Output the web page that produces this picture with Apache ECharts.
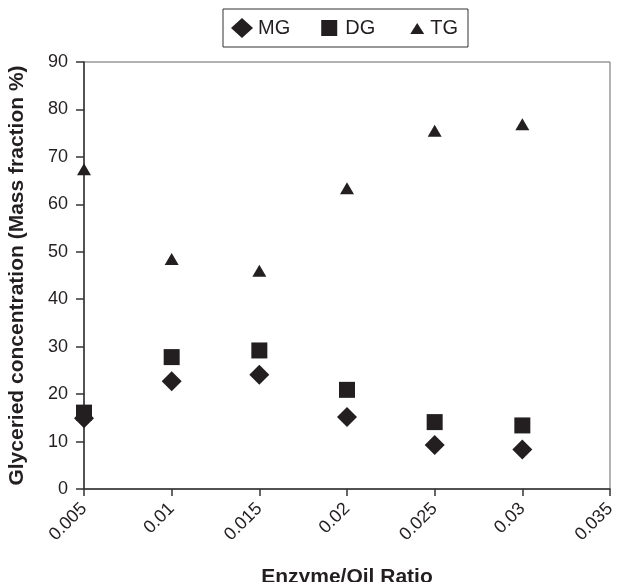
<!DOCTYPE html>
<html>
<head>
<meta charset="utf-8">
<title>Glyceride concentration</title>
<script src="https://cdn.jsdelivr.net/npm/echarts@6/dist/echarts.min.js"></script>
<style>
  html, body { margin: 0; padding: 0; background: #fff; }
  #main { width: 619px; height: 582px; }
</style>
</head>
<body>
<div id="main"></div>
<script>
// enzyme/oil ratio
var ratio = [0.005, 0.01, 0.015, 0.02, 0.025, 0.03];
// glyceride concentration, mass fraction %
var mg = [14.9, 22.7, 24.1, 15.2, 9.3, 8.3];
var dg = [16.1, 27.8, 29.2, 20.9, 14.1, 13.4];
var tg = [67.4, 48.5, 46.0, 63.4, 75.5, 76.9];

function pairs(ys) {
    return ratio.map(function (x, i) { return [x, ys[i]]; });
}

var font = '"Liberation Sans", Arial, Helvetica, sans-serif';
var ink = '#231f20';

// legend icons drawn inside a fixed 22x22 box (the two moveTo's pin the box)
var iconDiamond = 'path://M0,0M22,22M11,1L22,11L11,21L0,11Z';
var iconSquare = 'path://M0,0M22,22M3,3L19,3L19,19L3,19Z';
var iconTriangle = 'path://M0,0M22,22M7,0M7,17L14,6L21,17Z';

var chart = echarts.init(document.getElementById('main'));

var option = {
    animation: false,
    textStyle: { fontFamily: font },
    grid: {
        left: 84, right: 9, top: 62, bottom: 93,
        containLabel: false, outerBoundsMode: 'none',
        show: true, borderColor: '#666', borderWidth: 1
    },
    legend: {
        left: 223, top: 9,
        padding: [8, 10, 8, 8],
        borderColor: '#333', borderWidth: 1,
        itemGap: 28, itemWidth: 22, itemHeight: 22,
        textStyle: { fontSize: 20, color: ink, fontFamily: font },
        itemStyle: { color: ink },
        data: [
            { name: 'MG', icon: iconDiamond },
            { name: 'DG', icon: iconSquare },
            { name: 'TG', icon: iconTriangle }
        ]
    },
    xAxis: {
        type: 'value',
        min: 0.005, max: 0.035, interval: 0.005,
        name: 'Enzyme/Oil Ratio',
        nameLocation: 'middle', nameGap: 78,
        nameTextStyle: { fontSize: 21, fontWeight: 'bold', color: ink },
        axisLine: { lineStyle: { color: '#333', width: 1.5 } },
        axisTick: { show: true, length: 7, lineStyle: { color: '#333', width: 1.5 } },
        axisLabel: {
            rotate: 45, fontSize: 18, color: ink, margin: 17,
            formatter: function (v) { return String(parseFloat(v.toFixed(3))); }
        },
        splitLine: { show: false }
    },
    yAxis: {
        type: 'value',
        min: 0, max: 90, interval: 10,
        name: 'Glyceried concentration (Mass fraction %)',
        nameLocation: 'middle', nameGap: 56,
        nameTextStyle: { fontSize: 21, fontWeight: 'bold', color: ink },
        axisLine: { show: true, lineStyle: { color: '#333', width: 1.5 } },
        axisTick: { show: true, inside: false, length: 8, lineStyle: { color: '#333', width: 1.5 } },
        axisLabel: { fontSize: 18, color: ink, margin: 16 },
        splitLine: { show: false }
    },
    series: [
        { name: 'MG', type: 'scatter', symbol: 'diamond', symbolSize: 20,
          itemStyle: { color: ink, opacity: 1 }, data: pairs(mg) },
        { name: 'DG', type: 'scatter', symbol: 'rect', symbolSize: 16,
          itemStyle: { color: ink, opacity: 1 }, data: pairs(dg) },
        { name: 'TG', type: 'scatter', symbol: 'triangle', symbolSize: [14, 12],
          itemStyle: { color: ink, opacity: 1 }, data: pairs(tg) }
    ]
};

chart.setOption(option);
</script>
</body>
</html>
